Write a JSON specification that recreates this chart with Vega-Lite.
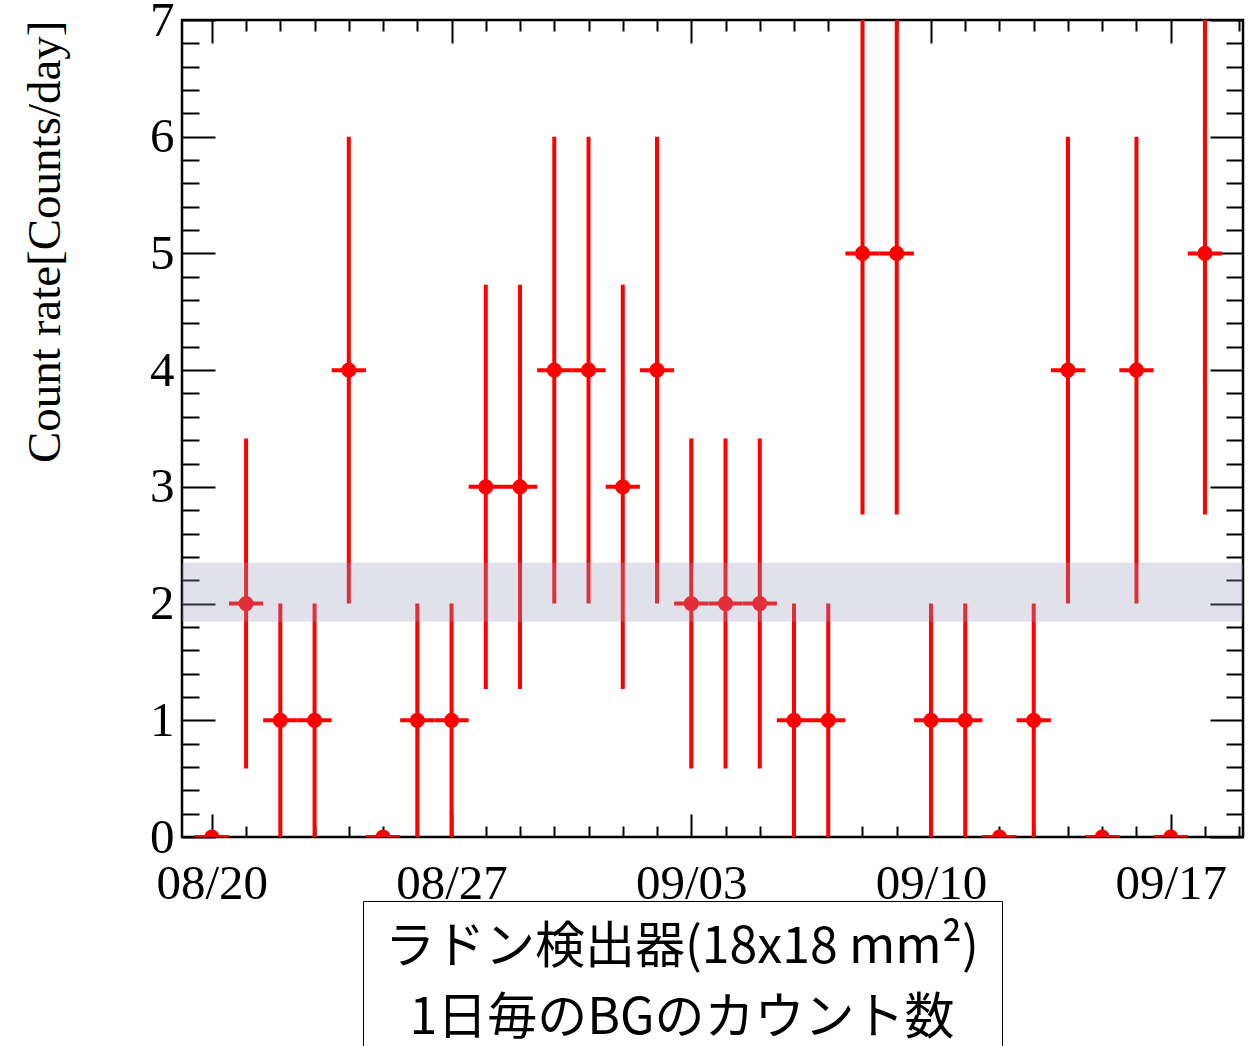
{
  "$schema": "https://vega.github.io/schema/vega-lite/v6.json",
  "autosize": {"type": "none"},
  "padding": {"left": 182, "top": 20, "right": 14, "bottom": 209},
  "width": 1061,
  "height": 817,
  "background": "white",
  "data": {"values": [
    {"d": "2023-08-20T00:00:00Z", "t0": "2023-08-19T12:00:00Z", "t1": "2023-08-20T12:00:00Z", "v": 0, "lo": 0, "hi": 0},
    {"d": "2023-08-21T00:00:00Z", "t0": "2023-08-20T12:00:00Z", "t1": "2023-08-21T12:00:00Z", "v": 2, "lo": 0.586, "hi": 3.414},
    {"d": "2023-08-22T00:00:00Z", "t0": "2023-08-21T12:00:00Z", "t1": "2023-08-22T12:00:00Z", "v": 1, "lo": 0, "hi": 2},
    {"d": "2023-08-23T00:00:00Z", "t0": "2023-08-22T12:00:00Z", "t1": "2023-08-23T12:00:00Z", "v": 1, "lo": 0, "hi": 2},
    {"d": "2023-08-24T00:00:00Z", "t0": "2023-08-23T12:00:00Z", "t1": "2023-08-24T12:00:00Z", "v": 4, "lo": 2, "hi": 6},
    {"d": "2023-08-25T00:00:00Z", "t0": "2023-08-24T12:00:00Z", "t1": "2023-08-25T12:00:00Z", "v": 0, "lo": 0, "hi": 0},
    {"d": "2023-08-26T00:00:00Z", "t0": "2023-08-25T12:00:00Z", "t1": "2023-08-26T12:00:00Z", "v": 1, "lo": 0, "hi": 2},
    {"d": "2023-08-27T00:00:00Z", "t0": "2023-08-26T12:00:00Z", "t1": "2023-08-27T12:00:00Z", "v": 1, "lo": 0, "hi": 2},
    {"d": "2023-08-28T00:00:00Z", "t0": "2023-08-27T12:00:00Z", "t1": "2023-08-28T12:00:00Z", "v": 3, "lo": 1.268, "hi": 4.732},
    {"d": "2023-08-29T00:00:00Z", "t0": "2023-08-28T12:00:00Z", "t1": "2023-08-29T12:00:00Z", "v": 3, "lo": 1.268, "hi": 4.732},
    {"d": "2023-08-30T00:00:00Z", "t0": "2023-08-29T12:00:00Z", "t1": "2023-08-30T12:00:00Z", "v": 4, "lo": 2, "hi": 6},
    {"d": "2023-08-31T00:00:00Z", "t0": "2023-08-30T12:00:00Z", "t1": "2023-08-31T12:00:00Z", "v": 4, "lo": 2, "hi": 6},
    {"d": "2023-09-01T00:00:00Z", "t0": "2023-08-31T12:00:00Z", "t1": "2023-09-01T12:00:00Z", "v": 3, "lo": 1.268, "hi": 4.732},
    {"d": "2023-09-02T00:00:00Z", "t0": "2023-09-01T12:00:00Z", "t1": "2023-09-02T12:00:00Z", "v": 4, "lo": 2, "hi": 6},
    {"d": "2023-09-03T00:00:00Z", "t0": "2023-09-02T12:00:00Z", "t1": "2023-09-03T12:00:00Z", "v": 2, "lo": 0.586, "hi": 3.414},
    {"d": "2023-09-04T00:00:00Z", "t0": "2023-09-03T12:00:00Z", "t1": "2023-09-04T12:00:00Z", "v": 2, "lo": 0.586, "hi": 3.414},
    {"d": "2023-09-05T00:00:00Z", "t0": "2023-09-04T12:00:00Z", "t1": "2023-09-05T12:00:00Z", "v": 2, "lo": 0.586, "hi": 3.414},
    {"d": "2023-09-06T00:00:00Z", "t0": "2023-09-05T12:00:00Z", "t1": "2023-09-06T12:00:00Z", "v": 1, "lo": 0, "hi": 2},
    {"d": "2023-09-07T00:00:00Z", "t0": "2023-09-06T12:00:00Z", "t1": "2023-09-07T12:00:00Z", "v": 1, "lo": 0, "hi": 2},
    {"d": "2023-09-08T00:00:00Z", "t0": "2023-09-07T12:00:00Z", "t1": "2023-09-08T12:00:00Z", "v": 5, "lo": 2.764, "hi": 7.236},
    {"d": "2023-09-09T00:00:00Z", "t0": "2023-09-08T12:00:00Z", "t1": "2023-09-09T12:00:00Z", "v": 5, "lo": 2.764, "hi": 7.236},
    {"d": "2023-09-10T00:00:00Z", "t0": "2023-09-09T12:00:00Z", "t1": "2023-09-10T12:00:00Z", "v": 1, "lo": 0, "hi": 2},
    {"d": "2023-09-11T00:00:00Z", "t0": "2023-09-10T12:00:00Z", "t1": "2023-09-11T12:00:00Z", "v": 1, "lo": 0, "hi": 2},
    {"d": "2023-09-12T00:00:00Z", "t0": "2023-09-11T12:00:00Z", "t1": "2023-09-12T12:00:00Z", "v": 0, "lo": 0, "hi": 0},
    {"d": "2023-09-13T00:00:00Z", "t0": "2023-09-12T12:00:00Z", "t1": "2023-09-13T12:00:00Z", "v": 1, "lo": 0, "hi": 2},
    {"d": "2023-09-14T00:00:00Z", "t0": "2023-09-13T12:00:00Z", "t1": "2023-09-14T12:00:00Z", "v": 4, "lo": 2, "hi": 6},
    {"d": "2023-09-15T00:00:00Z", "t0": "2023-09-14T12:00:00Z", "t1": "2023-09-15T12:00:00Z", "v": 0, "lo": 0, "hi": 0},
    {"d": "2023-09-16T00:00:00Z", "t0": "2023-09-15T12:00:00Z", "t1": "2023-09-16T12:00:00Z", "v": 4, "lo": 2, "hi": 6},
    {"d": "2023-09-17T00:00:00Z", "t0": "2023-09-16T12:00:00Z", "t1": "2023-09-17T12:00:00Z", "v": 0, "lo": 0, "hi": 0},
    {"d": "2023-09-18T00:00:00Z", "t0": "2023-09-17T12:00:00Z", "t1": "2023-09-18T12:00:00Z", "v": 5, "lo": 2.764, "hi": 7.236}
  ]},
  "resolve": {"axis": {"x": "independent", "y": "independent"}},
  "layer": [
    {
      "mark": {"type": "rule", "color": "#ff0000", "strokeWidth": 4, "strokeCap": "butt", "clip": true},
      "encoding": {
        "x": {"field": "t0", "type": "temporal",
          "scale": {"type": "utc", "nice": false, "domain": [{"year": 2023, "month": 8, "date": 19, "hours": 3, "minutes": 6, "utc": true}, {"year": 2023, "month": 9, "date": 19, "hours": 2, "minutes": 40, "utc": true}]},
          "axis": {"orient": "bottom", "ticks": false, "domain": false, "title": null, "labelExpr": "utcFormat(datum.value, '%m/%d')", "labelFlush": false, "labelOverlap": false, "labelPadding": 22,
            "values": [{"year": 2023, "month": 8, "date": 20, "utc": true}, {"year": 2023, "month": 8, "date": 27, "utc": true}, {"year": 2023, "month": 9, "date": 3, "utc": true}, {"year": 2023, "month": 9, "date": 10, "utc": true}, {"year": 2023, "month": 9, "date": 17, "utc": true}]}},
        "x2": {"field": "t1"},
        "y": {"field": "v", "type": "quantitative", "scale": {"domain": [0, 7], "nice": false, "zero": false},
          "axis": {"orient": "left", "ticks": false, "domain": false, "labelFlush": false, "labelOverlap": false, "labelPadding": 8, "values": [0, 1, 2, 3, 4, 5, 6, 7],
            "title": "Count rate[Counts/day]", "titleFontSize": 47, "titleAngle": -90, "titleAlign": "right", "titleBaseline": "top", "titleX": -160, "titleY": 0}}
      }
    },
    {
      "mark": {"type": "rule", "color": "#ff0000", "strokeWidth": 4, "strokeCap": "butt", "clip": true},
      "encoding": {
        "x": {"field": "d", "type": "temporal",
          "scale": {"type": "utc", "nice": false, "domain": [{"year": 2023, "month": 8, "date": 19, "hours": 3, "minutes": 6, "utc": true}, {"year": 2023, "month": 9, "date": 19, "hours": 2, "minutes": 40, "utc": true}]},
          "axis": {"orient": "bottom", "labels": false, "domain": false, "title": null,
            "tickSize": {"condition": {"test": "indexof([3,10,17,20,27], utcdate(datum.value)) >= 0", "value": -23}, "value": -11},
            "values": [
              {"year": 2023, "month": 8, "date": 20, "utc": true}, {"year": 2023, "month": 8, "date": 21, "utc": true}, {"year": 2023, "month": 8, "date": 22, "utc": true}, {"year": 2023, "month": 8, "date": 23, "utc": true}, {"year": 2023, "month": 8, "date": 24, "utc": true}, {"year": 2023, "month": 8, "date": 25, "utc": true}, {"year": 2023, "month": 8, "date": 26, "utc": true}, {"year": 2023, "month": 8, "date": 27, "utc": true}, {"year": 2023, "month": 8, "date": 28, "utc": true}, {"year": 2023, "month": 8, "date": 29, "utc": true}, {"year": 2023, "month": 8, "date": 30, "utc": true}, {"year": 2023, "month": 8, "date": 31, "utc": true},
              {"year": 2023, "month": 9, "date": 1, "utc": true}, {"year": 2023, "month": 9, "date": 2, "utc": true}, {"year": 2023, "month": 9, "date": 3, "utc": true}, {"year": 2023, "month": 9, "date": 4, "utc": true}, {"year": 2023, "month": 9, "date": 5, "utc": true}, {"year": 2023, "month": 9, "date": 6, "utc": true}, {"year": 2023, "month": 9, "date": 7, "utc": true}, {"year": 2023, "month": 9, "date": 8, "utc": true}, {"year": 2023, "month": 9, "date": 9, "utc": true}, {"year": 2023, "month": 9, "date": 10, "utc": true}, {"year": 2023, "month": 9, "date": 11, "utc": true}, {"year": 2023, "month": 9, "date": 12, "utc": true}, {"year": 2023, "month": 9, "date": 13, "utc": true}, {"year": 2023, "month": 9, "date": 14, "utc": true}, {"year": 2023, "month": 9, "date": 15, "utc": true}, {"year": 2023, "month": 9, "date": 16, "utc": true}, {"year": 2023, "month": 9, "date": 17, "utc": true}, {"year": 2023, "month": 9, "date": 18, "utc": true}, {"year": 2023, "month": 9, "date": 19, "utc": true}]}},
        "y": {"field": "lo", "type": "quantitative", "scale": {"domain": [0, 7], "nice": false, "zero": false},
          "axis": {"orient": "left", "labels": false, "domain": false, "title": null,
            "tickSize": {"condition": {"test": "datum.value % 1 === 0", "value": -33}, "value": -17},
            "values": [0, 0.2, 0.4, 0.6, 0.8, 1, 1.2, 1.4, 1.6, 1.8, 2, 2.2, 2.4, 2.6, 2.8, 3, 3.2, 3.4, 3.6, 3.8, 4, 4.2, 4.4, 4.6, 4.8, 5, 5.2, 5.4, 5.6, 5.8, 6, 6.2, 6.4, 6.6, 6.8, 7]}},
        "y2": {"field": "hi"}
      }
    },
    {
      "mark": {"type": "circle", "size": 230, "opacity": 1, "clip": true},
      "encoding": {
        "x": {"field": "d", "type": "temporal",
          "scale": {"type": "utc", "nice": false, "domain": [{"year": 2023, "month": 8, "date": 19, "hours": 3, "minutes": 6, "utc": true}, {"year": 2023, "month": 9, "date": 19, "hours": 2, "minutes": 40, "utc": true}]},
          "axis": {"orient": "top", "labels": false, "domain": false, "title": null,
            "tickSize": {"condition": {"test": "indexof([3,10,17,20,27], utcdate(datum.value)) >= 0", "value": -23}, "value": -11},
            "values": [
              {"year": 2023, "month": 8, "date": 20, "utc": true}, {"year": 2023, "month": 8, "date": 21, "utc": true}, {"year": 2023, "month": 8, "date": 22, "utc": true}, {"year": 2023, "month": 8, "date": 23, "utc": true}, {"year": 2023, "month": 8, "date": 24, "utc": true}, {"year": 2023, "month": 8, "date": 25, "utc": true}, {"year": 2023, "month": 8, "date": 26, "utc": true}, {"year": 2023, "month": 8, "date": 27, "utc": true}, {"year": 2023, "month": 8, "date": 28, "utc": true}, {"year": 2023, "month": 8, "date": 29, "utc": true}, {"year": 2023, "month": 8, "date": 30, "utc": true}, {"year": 2023, "month": 8, "date": 31, "utc": true},
              {"year": 2023, "month": 9, "date": 1, "utc": true}, {"year": 2023, "month": 9, "date": 2, "utc": true}, {"year": 2023, "month": 9, "date": 3, "utc": true}, {"year": 2023, "month": 9, "date": 4, "utc": true}, {"year": 2023, "month": 9, "date": 5, "utc": true}, {"year": 2023, "month": 9, "date": 6, "utc": true}, {"year": 2023, "month": 9, "date": 7, "utc": true}, {"year": 2023, "month": 9, "date": 8, "utc": true}, {"year": 2023, "month": 9, "date": 9, "utc": true}, {"year": 2023, "month": 9, "date": 10, "utc": true}, {"year": 2023, "month": 9, "date": 11, "utc": true}, {"year": 2023, "month": 9, "date": 12, "utc": true}, {"year": 2023, "month": 9, "date": 13, "utc": true}, {"year": 2023, "month": 9, "date": 14, "utc": true}, {"year": 2023, "month": 9, "date": 15, "utc": true}, {"year": 2023, "month": 9, "date": 16, "utc": true}, {"year": 2023, "month": 9, "date": 17, "utc": true}, {"year": 2023, "month": 9, "date": 18, "utc": true}, {"year": 2023, "month": 9, "date": 19, "utc": true}]}},
        "y": {"field": "v", "type": "quantitative", "scale": {"domain": [0, 7], "nice": false, "zero": false},
          "axis": {"orient": "right", "labels": false, "domain": false, "title": null,
            "tickSize": {"condition": {"test": "datum.value % 1 === 0", "value": -33}, "value": -17},
            "values": [0, 0.2, 0.4, 0.6, 0.8, 1, 1.2, 1.4, 1.6, 1.8, 2, 2.2, 2.4, 2.6, 2.8, 3, 3.2, 3.4, 3.6, 3.8, 4, 4.2, 4.4, 4.6, 4.8, 5, 5.2, 5.4, 5.6, 5.8, 6, 6.2, 6.4, 6.6, 6.8, 7]}},
        "color": {"datum": "1日毎のBGのカウント数", "type": "nominal",
          "scale": {"range": ["#ff0000"]},
          "legend": {"orient": "none", "legendX": 181, "legendY": 881, "direction": "vertical",
            "title": ["ラドン検出器(18x18 mm²)", "1日毎のBGのカウント数"],
            "titleFont": "Noto Sans CJK JP", "titleFontSize": 50, "titleFontWeight": "normal", "titleColor": "black",
            "titleAlign": "center", "titleAnchor": "middle", "titleLineHeight": 71, "titleLimit": 2000, "titlePadding": 0,
            "labelExpr": "''", "symbolOpacity": 0, "symbolSize": 0,
            "strokeColor": "black", "fillColor": "white", "padding": 22, "cornerRadius": 0}}
      }
    },
    {
      "data": {"values": [{"lo": 1.845, "hi": 2.35}]},
      "mark": {"type": "rect", "color": "#9a9ac0", "opacity": 0.3},
      "encoding": {
        "y": {"field": "lo", "type": "quantitative", "scale": {"domain": [0, 7], "nice": false, "zero": false}, "axis": null},
        "y2": {"field": "hi"}
      }
    }
  ],
  "config": {
    "view": {"stroke": "black", "strokeWidth": 2.5},
    "axis": {"grid": false, "domain": false, "tickColor": "black", "tickWidth": 2,
      "labelColor": "black", "labelFont": "Liberation Serif", "labelFontSize": 49,
      "titleFont": "Liberation Serif", "titleFontSize": 46, "titleFontWeight": "normal", "titleColor": "black"}
  }
}
